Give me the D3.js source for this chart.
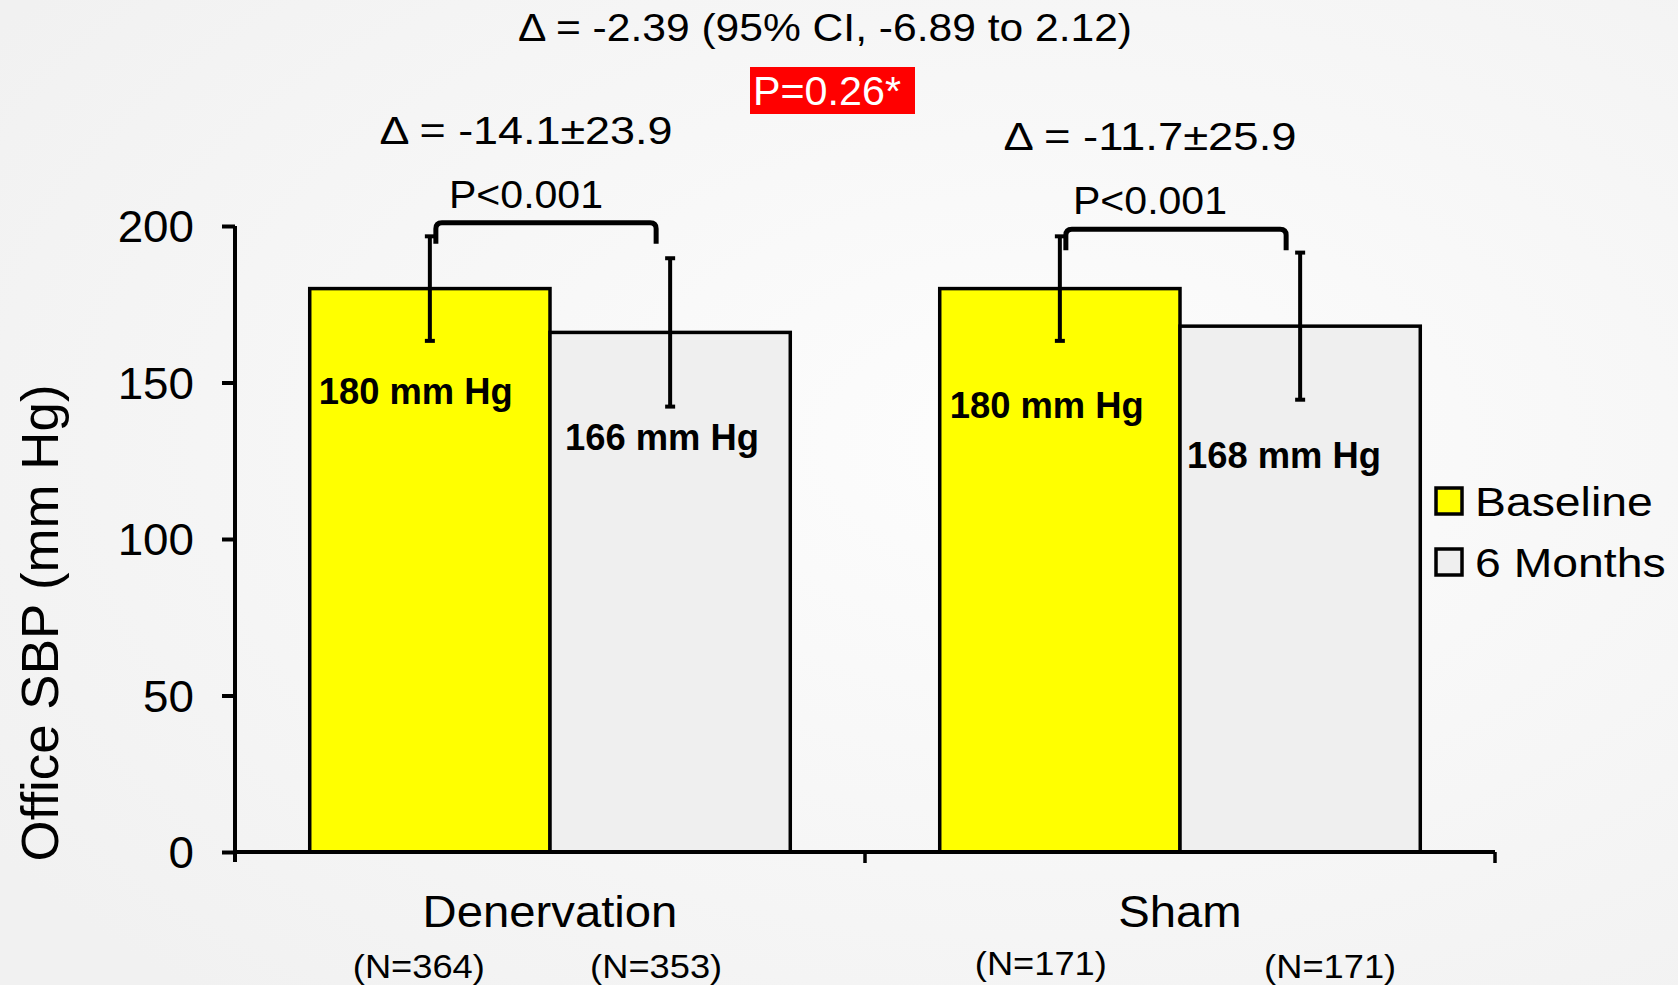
<!DOCTYPE html>
<html>
<head>
<meta charset="utf-8">
<script src="https://cdn.jsdelivr.net/npm/d3@7"></script>
<style>
  body { margin: 0; overflow: hidden; }
  svg { display: block; font-family: "Liberation Sans", Arial, sans-serif; }
</style>
</head>
<body>
<svg id="chart" width="1678" height="985"></svg>
<script>
// data
const groups = ["Denervation", "Sham"];
const series = ["Baseline", "6 Months"];
const means = [[180, 166], [180, 168]];
const sds = [[16.7, 23.7], [16.7, 23.5]];
const counts = [[364, 353], [171, 171]];
const deltaLabels = ["Δ = -14.1±23.9", "Δ = -11.7±25.9"];
const pLabels = ["P<0.001", "P<0.001"];
const bracketLevels = [201.05, 198.95];
const yTicks = [0, 50, 100, 150, 200];
const overallDelta = "Δ = -2.39 (95% CI, -6.89 to 2.12)";
const overallP = "P=0.26*";

const colors = ["#ffff00", "#efefef"];

// hand-tuned nudges for label placement
const barLabelNudge = [[9, 115], [15, 118], [10, 129], [7, 142]];
const nLabelShift = [[-11, -14], [-19, 30]];

const svg = d3.select("#chart");
const W = 1678, H = 985;

// background
const defs = svg.append("defs");
const grad = defs.append("radialGradient")
    .attr("id", "bg").attr("cx", "62%").attr("cy", "45%").attr("r", "75%");
grad.append("stop").attr("offset", "0%").attr("stop-color", "#fdfdfd");
grad.append("stop").attr("offset", "100%").attr("stop-color", "#f1f1f1");
svg.append("rect").attr("width", W).attr("height", H).attr("fill", "url(#bg)");

const y = d3.scaleLinear().domain([0, 200]).range([852, 226]);
const x0 = d3.scaleBand().domain(groups).range([235, 1495]).padding(0);
const x1 = d3.scaleBand().domain(series).range([0, x0.bandwidth()])
    .paddingInner(0).paddingOuter(0.311);

function fit(sel, w) {
    sel.attr("textLength", w).attr("lengthAdjust", "spacingAndGlyphs");
}
function stretch(sel, k) {
    sel.each(function () {
        const L = this.getComputedTextLength();
        d3.select(this).attr("textLength", L * k).attr("lengthAdjust", "spacingAndGlyphs");
    });
}

// bars
const rows = [];
groups.forEach(function (g, gi) {
    series.forEach(function (s, si) {
        rows.push({ g: g, gi: gi, s: s, si: si, v: means[gi][si], sd: sds[gi][si], n: counts[gi][si] });
    });
});

const barG = svg.append("g");
barG.selectAll("rect")
    .data(rows)
    .enter()
    .append("rect")
    .attr("x", function (d) { return x0(d.g) + x1(d.s); })
    .attr("y", function (d) { return y(d.v); })
    .attr("width", x1.bandwidth())
    .attr("height", function (d) { return y(0) - y(d.v); })
    .attr("fill", function (d) { return colors[d.si]; })
    .attr("stroke", "#000")
    .attr("stroke-width", 3.5);

function cx(d) { return x0(d.g) + x1(d.s) + x1.bandwidth() / 2; }

// bar value labels
barG.selectAll("text.val")
    .data(rows)
    .enter()
    .append("text")
    .attr("class", "val")
    .attr("x", function (d, i) { return x0(d.g) + x1(d.s) + barLabelNudge[i][0]; })
    .attr("y", function (d, i) { return y(d.v) + barLabelNudge[i][1]; })
    .attr("font-size", 37)
    .attr("font-weight", "bold")
    .text(function (d) { return d.v + " mm Hg"; })
    .call(fit, 194);

// error bars
const errG = svg.append("g").attr("stroke", "#000");
errG.selectAll("line.stem")
    .data(rows)
    .enter()
    .append("line")
    .attr("x1", cx).attr("x2", cx)
    .attr("y1", function (d) { return y(d.v + d.sd); })
    .attr("y2", function (d) { return y(d.v - d.sd); })
    .attr("stroke-width", 4);
[1, -1].forEach(function (sign) {
    errG.selectAll(null)
        .data(rows)
        .enter()
        .append("line")
        .attr("x1", function (d) { return cx(d) - 5; })
        .attr("x2", function (d) { return cx(d) + 5; })
        .attr("y1", function (d) { return y(d.v + sign * d.sd); })
        .attr("y2", function (d) { return y(d.v + sign * d.sd); })
        .attr("stroke-width", 4);
});

// y axis
const yAxis = d3.axisLeft(y).tickValues(yTicks).tickSize(13).tickSizeOuter(0).tickPadding(28);
const yg = svg.append("g").attr("transform", "translate(235,0)").call(yAxis);
yg.select(".domain").attr("stroke", "#000").attr("stroke-width", 4).attr("d", "M0," + y(200) + "V" + (y(0) + 10));
yg.selectAll(".tick line").attr("stroke", "#000").attr("stroke-width", 4);
yg.selectAll(".tick text")
    .attr("font-size", 44)
    .attr("font-family", "Liberation Sans, Arial, sans-serif")
    .attr("fill", "#000")
    .attr("dy", "0.36em")
    .call(stretch, 1.04);

// x axis line with boundary ticks
const xg = svg.append("g").attr("stroke", "#000").attr("stroke-width", 4);
xg.append("line")
    .attr("x1", x0.range()[0]).attr("x2", x0.range()[1])
    .attr("y1", y(0)).attr("y2", y(0));
const bounds = groups.map(function (g) { return x0(g); }).concat([x0.range()[1]]);
xg.selectAll("line.b")
    .data(bounds.slice(1))
    .enter()
    .append("line")
    .attr("x1", function (d) { return d; }).attr("x2", function (d) { return d; })
    .attr("y1", y(0)).attr("y2", y(0) + 11)
    .attr("stroke-width", 3.5);

// category labels
svg.selectAll("text.cat")
    .data(groups)
    .enter()
    .append("text")
    .attr("class", "cat")
    .attr("x", function (d) { return x0(d) + x0.bandwidth() / 2; })
    .attr("y", 927)
    .attr("text-anchor", "middle")
    .attr("font-size", 45)
    .text(function (d) { return d; })
    .call(stretch, 1.05);

// N labels
svg.selectAll("text.n")
    .data(rows)
    .enter()
    .append("text")
    .attr("class", "n")
    .attr("x", function (d) { return cx(d) + nLabelShift[d.gi][d.si]; })
    .attr("y", function (d) { return (d.gi === 1 && d.si === 0) ? 975 : 978; })
    .attr("text-anchor", "middle")
    .attr("font-size", 33)
    .text(function (d) { return "(N=" + d.n + ")"; })
    .call(fit, 132);

// y axis title
svg.append("text")
    .attr("transform", "translate(58,623) rotate(-90)")
    .attr("text-anchor", "middle")
    .attr("font-size", 52)
    .text("Office SBP (mm Hg)")
    .call(fit, 477);

// brackets and within-group annotations
const annG = svg.append("g");
groups.forEach(function (g, gi) {
    const a = rows.find(function (r) { return r.gi === gi && r.si === 0; });
    const b = rows.find(function (r) { return r.gi === gi && r.si === 1; });
    const left = cx(a) + 6, right = cx(b) - 14;
    const top = y(bracketLevels[gi]), bot = top + 21, r = 6;
    annG.append("path")
        .attr("d", "M" + left + "," + bot + "V" + (top + r) + "Q" + left + "," + top + " " + (left + r) + "," + top +
            "H" + (right - r) + "Q" + right + "," + top + " " + right + "," + (top + r) + "V" + bot)
        .attr("fill", "none")
        .attr("stroke", "#000")
        .attr("stroke-width", 5);
    const tx = x0(g) + x0.bandwidth() / 2 + (gi === 0 ? -24 : -30);
    annG.append("text")
        .attr("x", tx).attr("y", top - 79)
        .attr("text-anchor", "middle")
        .attr("font-size", 38)
        .text(deltaLabels[gi])
        .call(fit, 293);
    annG.append("text")
        .attr("x", tx).attr("y", top - 15)
        .attr("text-anchor", "middle")
        .attr("font-size", 38)
        .text(pLabels[gi])
        .call(fit, 154);
});

// overall comparison
const midX = (x0.range()[0] + x0.range()[1]) / 2;
svg.append("text")
    .attr("x", midX - 40).attr("y", 41)
    .attr("text-anchor", "middle")
    .attr("font-size", 38)
    .text(overallDelta)
    .call(fit, 614);
svg.append("rect")
    .attr("x", 750).attr("y", 67)
    .attr("width", 165).attr("height", 47)
    .attr("fill", "#ff0000");
svg.append("text")
    .attr("x", 753).attr("y", 105)
    .attr("font-size", 40)
    .attr("fill", "#fff")
    .text(overallP)
    .call(fit, 148);

// legend
const leg = svg.append("g").attr("transform", "translate(1436,488)");
const li = leg.selectAll("g")
    .data(series)
    .enter()
    .append("g")
    .attr("transform", function (d, i) { return "translate(0," + i * 61 + ")"; });
li.append("rect")
    .attr("width", 26).attr("height", 26)
    .attr("fill", function (d, i) { return colors[i]; })
    .attr("stroke", "#000")
    .attr("stroke-width", 3.5);
li.append("text")
    .attr("x", 39).attr("y", 28)
    .attr("font-size", 41)
    .text(function (d) { return d; })
    .call(stretch, 1.13);
</script>
</body>
</html>
